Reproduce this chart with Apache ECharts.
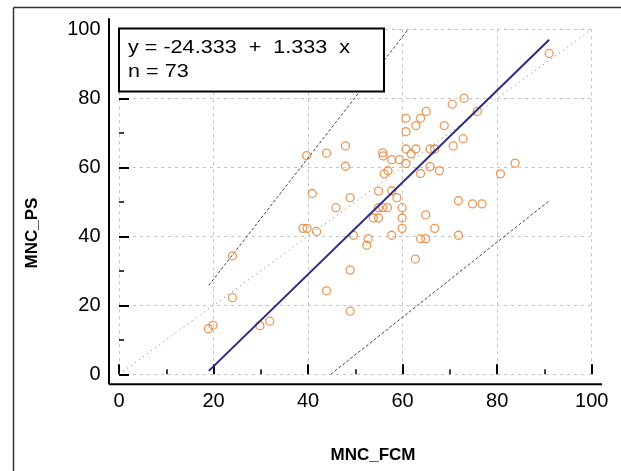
<!DOCTYPE html>
<html><head><meta charset="utf-8">
<script src="https://cdn.jsdelivr.net/npm/echarts@6/dist/echarts.min.js"></script>
<style>html,body{margin:0;padding:0;background:#fff}#c{width:621px;height:471px}</style>
</head><body><div id="c"></div>
<script>
// ---- data ----
const mncFcm = [91, 73, 70.5, 75.8, 65, 63.8, 60.7, 62.8, 68.8, 60.7, 72.8, 47.9, 70.7, 60.7, 62.8, 65.8, 66.8,
  43.9, 55.8, 55.9, 39.7, 61.8, 57.7, 59.3, 60.7, 47.9, 56.9, 56.1, 65.8, 63.8, 67.8, 80.7, 83.8,
  40.9, 48.9, 54.9, 57.7, 58.8, 45.9, 54.9, 55.8, 56.8, 59.9, 71.8, 74.8, 76.8, 53.8, 54.9, 59.9, 64.9,
  59.9, 66.8, 38.9, 39.8, 41.8, 49.6, 57.7, 52.7, 63.8, 64.9, 71.8, 52.4, 62.7, 48.9, 24.0, 43.9, 24.0,
  48.9, 18.9, 19.9, 29.8, 31.9];
const mncPs = [93, 80, 78.3, 76.2, 76.2, 74.2, 74.2, 72.1, 72.1, 70.3, 68.3, 66.2, 66.2, 65.3, 65.3, 65.3, 65.3,
  64.1, 64.2, 63.3, 63.4, 63.9, 62.2, 62.2, 61.1, 60.3, 59.0, 58.1, 60.2, 58.2, 59.0, 58.1, 61.2,
  52.4, 51.2, 53.1, 53.2, 51.2, 48.3, 48.3, 48.3, 48.3, 48.3, 50.3, 49.4, 49.4, 45.3, 45.3, 45.3, 46.2,
  42.3, 42.3, 42.3, 42.3, 41.4, 40.3, 40.3, 39.3, 39.3, 39.3, 40.3, 37.4, 33.4, 30.2, 34.3, 24.2, 22.2,
  18.3, 13.2, 14.2, 14.1, 15.4];
const fitIntercept = -24.333;
const fitSlope = 1.333;
const fitXRange = [19, 91];
const identityLine = [[0, 0], [100, 100]];
const upperBound = [[19, 25.8], [61.2, 100]];
const lowerBound = [[44.8, 0], [91.2, 50.5]];
const axisMin = 0, axisMax = 100, axisStep = 20;
const eqText = 'y = -24.333  +  1.333  x';
const nText = 'n = 73';
const xTitle = 'MNC_FCM';
const yTitle = 'MNC_PS';

// ---- layout ----
const G = {left: 119, right: 29.3, top: 29.3, bottom: 96.7};
const W = 621, H = 471, OFF = 10;
const FONT = '"Liberation Sans", Arial, sans-serif';

const points = mncFcm.map((x, i) => [x, mncPs[i]]);
const fitLine = fitXRange.map(x => [x, fitIntercept + fitSlope * x]);

const chart = echarts.init(document.getElementById('c'), null, {renderer: 'canvas'});

function axisCfg(isX) {
  return {
    type: 'value', min: axisMin, max: axisMax, interval: axisStep, offset: OFF,
    axisLine: {show: false},
    axisTick: {show: true, inside: true, length: 10, lineStyle: {color: '#000', width: 2}},
    minorTick: {show: true, splitNumber: 2, length: 5, lineStyle: {color: '#000', width: 1.5}},
    minorSplitLine: {show: false},
    splitLine: {show: true, lineStyle: {color: '#c4c4c4', width: 1, type: [3, 4]}},
    axisLabel: {fontSize: 20, color: '#000', fontFamily: FONT, margin: isX ? 7 : 8.5}
  };
}

const axLeft = G.left - OFF;
const axBottom = H - G.bottom + OFF;
const xEnd = W - G.right + 10.3;
const yTop = G.top - 11;

chart.setOption({
  animation: false,
  backgroundColor: '#fff',
  grid: {left: G.left, right: G.right, top: G.top, bottom: G.bottom, containLabel: false},
  xAxis: axisCfg(true),
  yAxis: axisCfg(false),
  series: [
    {type: 'line', data: identityLine, symbol: 'none', silent: true, z: 2,
     lineStyle: {color: '#777', width: 1, type: [1, 4]}},
    {type: 'line', data: upperBound, symbol: 'none', silent: true, z: 2,
     lineStyle: {color: '#444', width: 1, type: [3, 2]}},
    {type: 'line', data: lowerBound, symbol: 'none', silent: true, z: 2,
     lineStyle: {color: '#444', width: 1, type: [3, 2]}},
    {type: 'scatter', data: points, symbol: 'circle', symbolSize: 8, z: 3,
     itemStyle: {color: 'rgba(255,255,255,0)', borderColor: '#E2802F', borderWidth: 1.3}},
    {type: 'line', data: fitLine, symbol: 'none', silent: true, z: 4,
     lineStyle: {color: '#2B2A82', width: 2}}
  ],
  graphic: [
    {type: 'line', z: 100, shape: {x1: 13.5, y1: 7.5, x2: 13.5, y2: H}, style: {stroke: '#333', lineWidth: 1.5}},
    {type: 'line', z: 100, shape: {x1: 13.5, y1: 7.5, x2: W, y2: 7.5}, style: {stroke: '#333', lineWidth: 1.5}},
    {type: 'line', z: 100, shape: {x1: axLeft, y1: axBottom, x2: xEnd, y2: axBottom}, style: {stroke: '#000', lineWidth: 2}},
    {type: 'line', z: 100, shape: {x1: axLeft, y1: yTop, x2: axLeft, y2: axBottom}, style: {stroke: '#000', lineWidth: 2}},
    {type: 'rect', z: 100, shape: {x: 119, y: 28.5, width: 265, height: 63}, style: {fill: '#fff', stroke: '#000', lineWidth: 2}},
    {type: 'text', z: 101, x: 128, y: 48, scaleX: 1.2,
     style: {text: eqText, font: '18px ' + FONT, fill: '#000', textAlign: 'left', textVerticalAlign: 'middle'}},
    {type: 'text', z: 101, x: 128, y: 72, scaleX: 1.2,
     style: {text: nText, font: '18px ' + FONT, fill: '#000', textAlign: 'left', textVerticalAlign: 'middle'}},
    {type: 'text', z: 101, x: 373, y: 455,
     style: {text: xTitle, font: 'bold 17px ' + FONT, fill: '#000', textAlign: 'center', textVerticalAlign: 'middle'}},
    {type: 'text', z: 101, x: 32, y: 233, rotation: Math.PI / 2,
     style: {text: yTitle, font: 'bold 17px ' + FONT, fill: '#000', textAlign: 'center', textVerticalAlign: 'middle'}}
  ]
});
</script>
</body></html>
